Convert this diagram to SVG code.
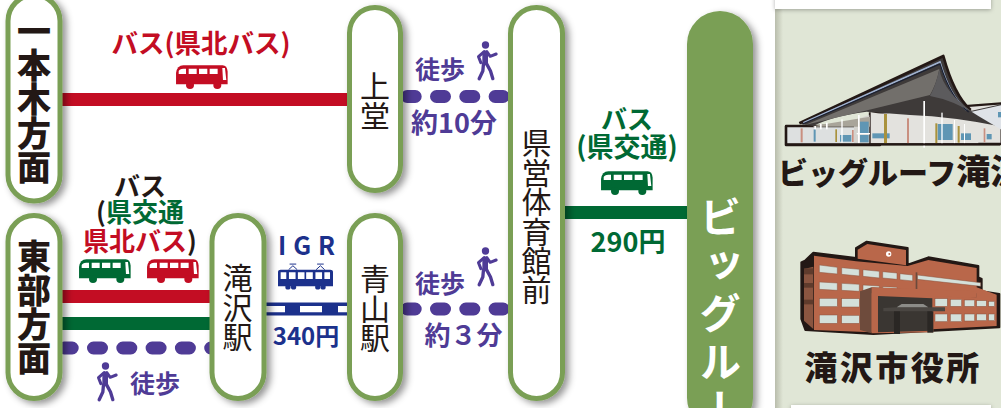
<svg xmlns="http://www.w3.org/2000/svg" width="1001" height="408" viewBox="0 0 1001 408">
<style>
text{font-family:"Noto Sans CJK JP","Noto Sans",sans-serif;font-weight:700}
.v{writing-mode:vertical-rl;text-anchor:start;fill:#231815}
.vb{font-size:34px;font-weight:900}
.vr{font-size:30px;font-weight:400;letter-spacing:-.6px}
.st{fill:#fff;stroke:#7a9f55;stroke-width:5}
.red{fill:#c30d23}.grn{fill:#006934}.pur{fill:#4f3b96}.nvy{fill:#1c318c}.blk{fill:#231815}
.m{text-anchor:middle}
.l{font-size:25px}
.dot{stroke:#4f3b96;stroke-width:13;stroke-linecap:round;stroke-dasharray:8 21.300;fill:none}
</style>
<defs>
<filter id="sh" x="-30%" y="-10%" width="170%" height="125%"><feDropShadow dx="4" dy="3" stdDeviation="3.500" flood-color="#000" flood-opacity=".42"/></filter>
<filter id="sh2" x="-10%" y="-50%" width="120%" height="250%"><feDropShadow dx="0" dy="1" stdDeviation="2" flood-color="#000" flood-opacity=".3"/></filter>
<linearGradient id="ed" x1="0" x2="1" y1="0" y2="0"><stop offset="0" stop-color="#b9bdac"/><stop offset="1" stop-color="#e0e6d6"/></linearGradient>
<symbol id="bus" viewBox="0 0 156 73" overflow="visible">
<path fill="currentColor" d="M0 56V24Q3 2 22 1H140Q153 1 155 20V58H0Z"/>
<circle fill="currentColor" cx="42" cy="60" r="12"/><circle fill="currentColor" cx="124" cy="60" r="12"/>
<path fill="#fff" d="M8 27V18Q10 12 22 11H30V27ZM38 11H62V27H38ZM69 11H94V27H69ZM101 11H125V27H101ZM139 9H147L151 45H141Z"/>
</symbol>
<symbol id="walk" viewBox="0 0 65 120" overflow="visible">
<g fill="none" stroke="currentColor" stroke-linecap="round" stroke-linejoin="round">
<circle cx="28" cy="12" r="11" fill="currentColor" stroke="none"/>
<path stroke-width="17" d="M27 37L27 64"/>
<path stroke-width="9" d="M24 32L7 47L14 65M32 32L42 46L60 39"/>
<path stroke-width="10" d="M22 68L20 90L9 113M31 68L43 90L50 113"/>
</g>
</symbol>
<symbol id="train" viewBox="0 0 166 84" overflow="visible">
<path d="M32 20L45 8L58 20M115 20L128 8L141 20M35 3H55M118 3H138" fill="none" stroke="#1c318c" stroke-width="3"/>
<path fill="#1c318c" d="M0 26Q0 20 8 20H158Q166 20 166 26V70H0Z"/>
<g fill="#1c318c"><circle cx="30" cy="72" r="8"/><circle cx="47" cy="72" r="8"/><circle cx="120" cy="72" r="8"/><circle cx="136" cy="72" r="8"/></g>
<path fill="#fff" d="M8 28H25V48H8ZM33 28H53V48H33ZM60 28H80V48H60ZM85 28H105V48H85ZM113 28H133V48H113ZM140 28H157V48H140Z"/>
</symbol>
</defs>
<rect width="1001" height="408" fill="#fff"/>
<g id="panel">
<rect x="775" y="0" width="226" height="408" fill="#e0e6d6"/>
<rect x="775" y="0" width="8" height="408" fill="url(#ed)"/>
<rect x="775" y="-10" width="216" height="19" fill="#fff" filter="url(#sh2)"/>
<rect x="791" y="405" width="200" height="10" fill="#fff" filter="url(#sh2)"/>
</g>
<g id="connectors">
<rect x="60" y="93" width="290" height="13" class="red"/>
<rect x="60" y="290" width="152" height="13" class="red"/>
<rect x="60" y="317" width="152" height="13" class="grn"/>
<rect x="565" y="206" width="125" height="13" class="grn"/>
<path class="dot" d="M34.900 348H215"/>
<path class="dot" d="M407.200 96.500H515"/>
<path class="dot" d="M407.200 309H515"/>
<rect x="262" y="302.500" width="88" height="13" class="nvy"/>
<path fill="#fff" d="M266 306H285V312.300H266ZM300 306H322V312.300H300ZM338 306H347V312.300H338Z"/>
</g>
<g id="node-ichinohongi"><rect x="8" y="-5" width="52" height="206" rx="26" class="st" filter="url(#sh)"/>
<text class="v vb" x="34" y="14">一本木方面</text></g>
<g id="node-tobu"><rect x="8" y="215.500" width="52" height="183" rx="26" class="st" filter="url(#sh)"/>
<text class="v vb" x="34" y="239">東部方面</text></g>
<g id="node-takizawa"><rect x="212" y="215.500" width="52" height="183" rx="26" class="st" filter="url(#sh)"/>
<text class="v vr" x="237.500" y="263">滝沢駅</text></g>
<g id="node-kamido"><rect x="349.500" y="7.500" width="51" height="183" rx="25.500" class="st" filter="url(#sh)"/>
<text class="v vr" x="375" y="71">上堂</text></g>
<g id="node-aoyama"><rect x="349.500" y="215.500" width="51" height="183" rx="25.500" class="st" filter="url(#sh)"/>
<text class="v vr" x="375" y="264">青山駅</text></g>
<g id="node-kenei"><rect x="510.500" y="7.500" width="52" height="391" rx="26" class="st" filter="url(#sh)"/>
<text class="v vr" x="536.500" y="128">県営体育館前</text></g>
<g id="node-bigroof"><rect x="687" y="11" width="66" height="420" rx="33" fill="#7a9f55" filter="url(#sh)"/>
<text class="v" x="720" y="196" style="fill:#fff;font-size:42px;font-weight:700;letter-spacing:6px">ビッグルー</text></g>
<g id="labels">
<text x="201" y="53" class="red m" style="font-size:26.500px">バス(県北バス)</text>
<use href="#bus" x="176" y="65" width="52" height="24.300" color="#c30d23"/>
<text x="140" y="196" class="blk m" style="font-size:26px">バス</text>
<text x="140" y="222" class="grn m" style="font-size:26px"><tspan class="blk">(</tspan>県交通</text>
<text x="140" y="251" class="red m" style="font-size:26px">県北バス<tspan class="blk">)</tspan></text>
<use href="#bus" x="79" y="259" width="52" height="24.300" color="#006934"/>
<use href="#bus" x="147" y="259" width="52" height="24.300" color="#c30d23"/>
<use href="#walk" x="96" y="362" width="22" height="40" color="#4f3b96"/>
<text x="155" y="393" class="pur m l">徒歩</text>
<text x="310" y="255" class="nvy m" style="font-size:25px;letter-spacing:7px">IGR</text>
<use href="#train" x="278" y="263" width="55" height="28" color="#1c318c"/>
<text x="306" y="345" class="nvy m" style="font-size:24px">340円</text>
<text x="440" y="79" class="pur m l">徒歩</text>
<use href="#walk" x="476" y="41" width="22" height="40" color="#4f3b96"/>
<text x="454" y="133" class="pur m" style="font-size:27px">約10分</text>
<text x="440" y="293" class="pur m l">徒歩</text>
<use href="#walk" x="476" y="247" width="22" height="40" color="#4f3b96"/>
<text x="463.500" y="345" class="pur m" style="font-size:26px">約３分</text>
<text x="627" y="129" class="grn m" style="font-size:26px">バス</text>
<text x="627" y="157" class="grn m" style="font-size:27px">(県交通)</text>
<use href="#bus" x="601" y="171" width="52" height="24.300" color="#006934"/>
<text x="628" y="252" class="grn m" style="font-size:27px">290円</text>
</g>
<g id="bigroof-building" transform="translate(680,0) scale(.33333)">
<path d="M318 378H600V435H318Z" fill="#dde0e0" stroke="#231815" stroke-width="7" stroke-linejoin="round"/>
<path d="M570 340L965 310V432H570Z" fill="#e3e2de" stroke="#231815" stroke-width="7"/>
<path d="M360 372L790 168Q825 290 875 332L965 312V380Q820 350 690 345L560 335Q450 350 400 378Z" fill="#3e3a39"/>
<path d="M358 370L790 168Q822 285 872 330" fill="none" stroke="#231815" stroke-width="8" stroke-linejoin="round"/>
<path d="M370 368L780 186Q810 290 860 330" fill="none" stroke="#9fb1cf" stroke-width="5"/>
<path d="M368 372L780 192Q812 296 866 336" fill="none" stroke="#1b2030" stroke-width="4"/>
<path d="M375 375L778 207Q770 250 750 285L565 330Z" fill="#726f6b"/>
<path d="M778 207Q790 280 895 348Q820 300 750 288Q770 250 778 207Z" fill="#5c5b5d"/>
<path d="M572 337L735 360L895 378V430H572Z" fill="#e3e2de"/>
<path d="M875 335L965 315V390L895 348Z" fill="#dfe3e8"/>
<path d="M522 360L568 345V430H522Z" fill="#d4d3ce"/>
<path d="M400 378L570 350V380H400Z" fill="#a9a59a"/>
<g fill="#5f96b4"><rect x="540" y="365" width="26" height="34"/><rect x="540" y="405" width="26" height="22"/><rect x="577" y="400" width="52" height="15"/><rect x="480" y="405" width="34" height="20"/><rect x="773" y="372" width="45" height="48"/><rect x="843" y="400" width="30" height="20"/><rect x="920" y="402" width="15" height="16"/><rect x="954" y="336" width="9" height="16"/></g>
<g fill="#a9923d"><rect x="612" y="342" width="9" height="88"/><rect x="766" y="370" width="6" height="60"/><rect x="833" y="378" width="6" height="50"/><rect x="466" y="388" width="5" height="38"/></g>
<g fill="#c98f80"><rect x="681" y="355" width="6" height="75"/><rect x="362" y="385" width="6" height="42"/><rect x="516" y="390" width="5" height="36"/><rect x="911" y="385" width="5" height="42"/></g>
<rect x="401" y="388" width="6" height="37" fill="#5f96b4"/>
<g fill="#fff"><rect x="730" y="303" width="5" height="140"/><rect x="784" y="338" width="4" height="94"/><rect x="822" y="360" width="3" height="70"/><rect x="852" y="372" width="3" height="58"/><rect x="534" y="345" width="5" height="85"/><rect x="484" y="358" width="4" height="70"/><rect x="420" y="372" width="5" height="16"/><rect x="438" y="368" width="5" height="20"/><rect x="403" y="378" width="5" height="10"/></g>
<rect x="530" y="399" width="40" height="4" fill="#fff"/>
<path d="M318 378V433H960" fill="none" stroke="#231815" stroke-width="7"/>
</g>
<text x="778" y="184" class="blk" style="font-size:30px;font-weight:900">ビッグルーフ<tspan style="font-size:34px">滝沢</tspan></text>
<g id="cityhall" transform="translate(680,204) scale(.33333)">
<path d="M375 170L400 146L528 162V132L560 113L683 132V182L745 160L895 186V220L905 225V262L958 270V370L580 390L376 378L364 345V175Z" fill="#231815" stroke="#231815" stroke-width="6" stroke-linejoin="round"/>
<path d="M402 155L528 172L683 186L745 168L890 192V250L950 272V366L575 385L402 378Z" fill="#b9674a"/>
<path d="M533 137L562 120L678 138V184L533 164Z" fill="#b9674a"/>
<path d="M372 195L400 188V375L372 350Z" fill="#8a5540"/>
<g fill="#5f3b2c"><rect x="372" y="193" width="28" height="18"/><rect x="372" y="237" width="28" height="14"/><rect x="372" y="287" width="28" height="14"/></g>
<g fill="#d4e0da" stroke="#8a5540" stroke-width="1.500">
<path d="M418 183L472 190V210L418 205ZM485 191L538 196V216L485 211ZM549 197L598 202V222L549 217ZM608 203L651 207V226L608 222ZM660 209L698 213V231L660 227Z"/>
<path d="M418 234L472 237V259L418 256ZM485 238L538 241V262L485 259ZM549 243L598 246V262L549 262ZM608 248L651 250V262L608 262Z"/>
<rect x="418" y="283" width="54" height="25"/><rect x="485" y="284" width="53" height="25"/>
<rect x="418" y="333" width="54" height="25"/><rect x="485" y="334" width="53" height="24"/>
<path d="M712 213L902 236V247L712 226Z"/>
<rect x="765" y="284" width="37" height="23"/><rect x="811" y="286" width="34" height="21"/><rect x="853" y="288" width="31" height="19"/><rect x="890" y="290" width="29" height="17"/><rect x="926" y="292" width="18" height="15"/>
<rect x="765" y="330" width="37" height="23"/><rect x="811" y="330" width="34" height="23"/><rect x="853" y="330" width="31" height="21"/><rect x="890" y="330" width="29" height="20"/><rect x="926" y="330" width="18" height="20"/>
</g>
<path d="M707 205L712 205V260L707 260Z" fill="#6b4a3c"/>
<path d="M540 262L575 250L890 268V280L575 268V388L540 378Z" fill="#6e4b3c"/>
<path d="M575 250L890 262V280L760 278V385L575 388Z" fill="#b9674a"/>
<path d="M594 276L757 283V380L594 385Z" fill="#3a3632"/>
<path d="M610 312L650 310H795V322H610Z" fill="#4a4642"/>
<path d="M665 300H730L745 310H650Z" fill="#8c8c88"/>
<rect x="642" y="322" width="18" height="68" fill="#2a2724"/><rect x="742" y="322" width="18" height="64" fill="#2a2724"/>
<circle cx="626" cy="150" r="8" fill="#fff"/><circle cx="628" cy="150" r="3" fill="#b9674a"/>
</g>
<text x="893" y="380" class="blk m" style="font-size:33px;font-weight:900;letter-spacing:2.500px">滝沢市役所</text>
</svg>
